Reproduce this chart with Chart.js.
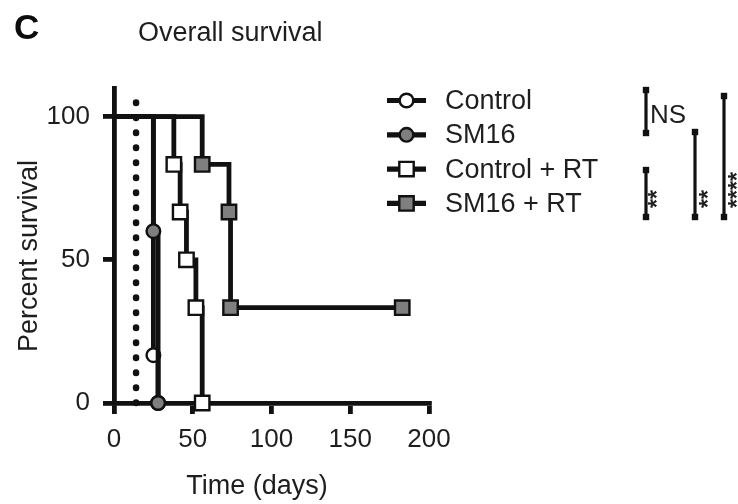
<!DOCTYPE html>
<html>
<head>
<meta charset="utf-8">
<script src="https://cdn.jsdelivr.net/npm/chart.js@4/dist/chart.umd.min.js"></script>
<style>
html,body{margin:0;padding:0;background:#fff;}
#wrap{width:738px;height:504px;position:relative;}
</style>
</head>
<body>
<div id="wrap"><canvas id="c" width="738" height="504"></canvas></div>
<script>
// ---------- data ----------
const seriesNames = ['Control', 'SM16', 'Control + RT', 'SM16 + RT'];
const controlDays = [0, 25, 28];
const controlSurvival = [100, 16.7, 0];
const sm16Days = [0, 25, 28];
const sm16Survival = [100, 60, 0];
const controlRtDays = [0, 38, 42, 46, 52, 56];
const controlRtSurvival = [100, 83.3, 66.7, 50, 33.3, 0];
const sm16RtDays = [0, 56, 73, 74, 183];
const sm16RtSurvival = [100, 83.3, 66.7, 33.3, 33.3];
const rtDays = [14, 14];
const rtLevels = [0, 110];
const xTickValues = [0, 50, 100, 150, 200];
const yTickValues = [0, 50, 100];
const sigLabels = ['NS', '**', '**', '****'];
const panelLetter = 'C';
const chartTitle = 'Overall survival';
const xTitle = 'Time (days)';
const yTitle = 'Percent survival';

// ---------- styles ----------
const FONT = "'Liberation Sans', Arial, Helvetica, sans-serif";
const INK = '#111111';
const TEXT = '#1e1e1e';
const GREY = '#7f7f7f';
const LW = 4.8;
const CIRCLE_R = 6.8;
const RECT_R = 10.2;

const toPts = (xs, ys) => xs.map((x, i) => ({ x: x, y: ys[i] }));

function kmDataset(label, xs, ys, style, fill, radius, order) {
  return {
    label: label,
    data: toPts(xs, ys),
    showLine: true,
    stepped: 'before',
    borderColor: INK,
    borderWidth: LW,
    pointStyle: style,
    pointRadius: ctx => ctx.dataIndex === 0 ? 0 : radius,
    pointBackgroundColor: fill,
    pointBorderColor: INK,
    pointBorderWidth: 2.4,
    clip: false,
    order: order
  };
}

const datasets = [
  kmDataset(seriesNames[0], controlDays, controlSurvival, 'circle', '#ffffff', CIRCLE_R, 2),
  kmDataset(seriesNames[1], sm16Days, sm16Survival, 'circle', GREY, CIRCLE_R, 1),
  kmDataset(seriesNames[2], controlRtDays, controlRtSurvival, 'rect', '#ffffff', RECT_R, 3),
  kmDataset(seriesNames[3], sm16RtDays, sm16RtSurvival, 'rect', GREY, RECT_R, 4),
  {
    label: 'RT',
    data: toPts(rtDays, rtLevels),
    showLine: true,
    borderColor: INK,
    borderWidth: 6.5,
    borderDash: [0.5, 14.5],
    borderCapStyle: 'round',
    pointRadius: 0,
    clip: false,
    order: 5
  }
];

function marker(ctx, style, r, x, y, fill) {
  ctx.beginPath();
  if (style === 'circle') {
    ctx.arc(x, y, r, 0, Math.PI * 2);
  } else {
    const s = r * Math.SQRT1_2;
    ctx.rect(x - s, y - s, 2 * s, 2 * s);
  }
  ctx.fillStyle = fill;
  ctx.fill();
  ctx.lineWidth = 2.4;
  ctx.strokeStyle = INK;
  ctx.stroke();
}

const overlay = {
  id: 'overlay',
  afterDraw(chart) {
    const ctx = chart.ctx;
    ctx.save();
    ctx.fillStyle = '#0c0c0c';
    ctx.textAlign = 'left';
    ctx.textBaseline = 'alphabetic';
    ctx.font = 'bold 35px ' + FONT;
    ctx.fillText(panelLetter, 14, 39);
    ctx.fillStyle = TEXT;
    ctx.font = '27px ' + FONT;
    ctx.fillText(chartTitle, 138, 41);

    ctx.textAlign = 'center';
    ctx.fillText(xTitle, 257, 494);
    ctx.save();
    ctx.translate(37, 256);
    ctx.rotate(-Math.PI / 2);
    ctx.fillText(yTitle, 0, 0);
    ctx.restore();

    // legend
    const lds = chart.data.datasets.slice(0, 4);
    lds.forEach((ds, i) => {
      const y = 100.5 + i * 34.3;
      ctx.beginPath();
      ctx.moveTo(387, y);
      ctx.lineTo(426, y);
      ctx.lineWidth = 5.2;
      ctx.strokeStyle = INK;
      ctx.stroke();
      const r = ds.pointStyle === 'circle' ? CIRCLE_R : RECT_R;
      marker(ctx, ds.pointStyle, r, 406.5, y, ds.pointBackgroundColor);
      ctx.fillStyle = TEXT;
      ctx.font = '27px ' + FONT;
      ctx.textAlign = 'left';
      ctx.textBaseline = 'middle';
      ctx.fillText(ds.label, 445, y + 1);
    });

    // significance brackets
    const bars = [
      { x: 646, y1: 90, y2: 133 },
      { x: 646, y1: 170, y2: 217 },
      { x: 695, y1: 132, y2: 217 },
      { x: 724, y1: 96, y2: 217 }
    ];
    bars.forEach(b => {
      ctx.beginPath();
      ctx.moveTo(b.x, b.y1);
      ctx.lineTo(b.x, b.y2);
      ctx.lineWidth = 3.2;
      ctx.strokeStyle = INK;
      ctx.stroke();
      ctx.fillStyle = INK;
      ctx.fillRect(b.x - 3.2, b.y1 - 3.2, 6.4, 6.4);
      ctx.fillRect(b.x - 3.2, b.y2 - 3.2, 6.4, 6.4);
    });
    ctx.fillStyle = TEXT;
    ctx.textAlign = 'left';
    ctx.textBaseline = 'alphabetic';
    ctx.font = '26px ' + FONT;
    ctx.fillText(sigLabels[0], 650, 123);
    const starPos = [null, { x: 654, y: 199 }, { x: 705, y: 199 }, { x: 734, y: 190 }];
    ctx.font = 'bold 23px ' + FONT;
    for (let i = 1; i < 4; i++) {
      ctx.save();
      ctx.translate(starPos[i].x, starPos[i].y);
      ctx.rotate(-Math.PI / 2);
      ctx.textAlign = 'center';
      ctx.textBaseline = 'middle';
      ctx.fillText(sigLabels[i], 0, 5);
      ctx.restore();
    }
    ctx.restore();
  }
};

const axisCommon = {
  grid: { drawOnChartArea: false, drawTicks: true, tickLength: 11, lineWidth: LW, color: INK },
  border: { display: true, width: LW, color: INK }
};

new Chart(document.getElementById('c'), {
  type: 'scatter',
  data: { datasets: datasets },
  options: {
    responsive: false,
    animation: false,
    events: [],
    layout: { padding: { left: 0, top: 88, right: 309, bottom: 0 } },
    plugins: { legend: { display: false }, tooltip: { enabled: false }, title: { display: false } },
    scales: {
      x: Object.assign({}, axisCommon, {
        type: 'linear',
        min: 0,
        max: 200,
        afterBuildTicks: axis => { axis.ticks = xTickValues.map(v => ({ value: v })); },
        afterFit: s => { s.height = 101; },
        ticks: { font: { family: FONT, size: 26 }, color: TEXT, padding: 10, maxRotation: 0, autoSkip: false }
      }),
      y: Object.assign({}, axisCommon, {
        type: 'linear',
        min: 0,
        max: 110,
        afterBuildTicks: axis => { axis.ticks = yTickValues.map(v => ({ value: v })); },
        afterFit: s => { s.width = 114; },
        ticks: { font: { family: FONT, size: 26 }, color: TEXT, padding: 13, autoSkip: false }
      })
    }
  },
  plugins: [overlay]
});
</script>
</body>
</html>
